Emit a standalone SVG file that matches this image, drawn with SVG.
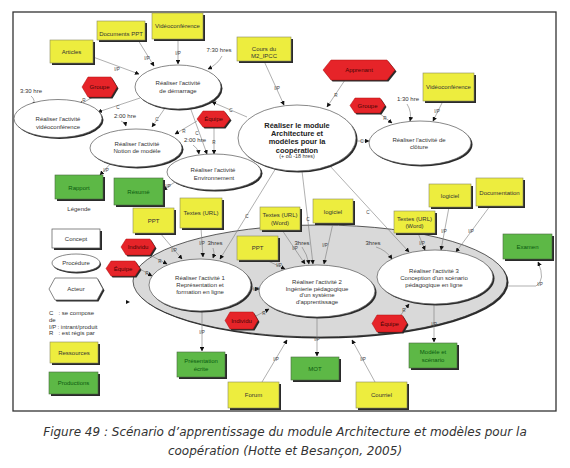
<svg xmlns="http://www.w3.org/2000/svg" width="570" height="468" viewBox="0 0 570 468">
<defs>
<style>
.t{font-family:"Liberation Sans",Arial,sans-serif;font-size:6px;fill:#333;text-anchor:middle}
.tl{font-family:"Liberation Sans",Arial,sans-serif;font-size:6px;fill:#333}
.tb{font-family:"Liberation Sans",Arial,sans-serif;font-size:7.4px;font-weight:bold;fill:#222;text-anchor:middle}
.tg{fill:#0a5a10}
.tr{fill:#4a0505}
.lb{font-family:"Liberation Sans",Arial,sans-serif;font-size:4.6px;fill:#444;text-anchor:middle}
.y{fill:#eded3e;stroke:#8a8a60;stroke-width:0.6}
.g{fill:#5db846;stroke:#4a6a40;stroke-width:0.6}
.r{fill:#e62429;stroke:#b01010;stroke-width:0.5}
.w{fill:#fff;stroke:#555;stroke-width:0.7}
.sh{fill:#2a2a2a}
.c{fill:none;stroke:#7a7a7a;stroke-width:0.6;marker-end:url(#ah)}
.cap{font-family:"DejaVu Sans",Verdana,sans-serif;font-size:12px;font-style:italic;fill:#333;text-anchor:middle}
</style>
<marker id="ah" viewBox="0 0 10 10" refX="9" refY="5" markerWidth="4.5" markerHeight="4.5" markerUnits="userSpaceOnUse" orient="auto"><path d="M0,0 L10,5 L0,10 z" fill="#111"/></marker>
</defs>
<rect x="0" y="0" width="570" height="468" fill="#fff"/>
<rect x="13" y="12" width="543" height="399" fill="#fff" stroke="#333" stroke-width="1.3"/>

<!-- big gray container -->
<g id="container">
<ellipse cx="321.5" cy="282.5" rx="187" ry="56" class="sh"/>
<ellipse cx="320" cy="281" rx="187" ry="56" fill="#d9d9d9" stroke="#333" stroke-width="0.8"/>
</g>

<!-- connectors -->
<g id="connectors">
<path class="c" d="M93,57 L139,74"/>
<path class="c" d="M138,40 L154,66"/>
<path class="c" d="M178,39 L178,64"/>
<path class="c" d="M222,56 Q218,64 208,69"/>
<path class="c" d="M93,97 L79,105"/>
<path class="c" d="M140,98 L98,112"/>
<path class="c" d="M31,96 Q36,100 33,106"/>
<path class="c" d="M165,108 L152,127"/>
<path class="c" d="M121,121 Q125,122 126,126"/>
<path class="c" d="M197,121 L175,134"/>
<path class="c" d="M190,107 L207,154"/>
<path class="c" d="M193,145 Q198,148 199,154"/>
<path class="c" d="M214,127 L214,154"/>
<path class="c" d="M247,117 L212,102"/>
<path class="c" d="M264,61 L284,105"/>
<path class="c" d="M345,80 L327,107"/>
<path class="c" d="M356,141 L369,141"/>
<path class="c" d="M379,113 L392,123"/>
<path class="c" d="M407,104 Q412,112 410,121"/>
<path class="c" d="M443,101 L433,121"/>
<path class="c" d="M112,162 L100,175"/>
<path class="c" d="M175,182 L163,190"/>
<path class="c" d="M276,168 L220,259"/>
<path class="c" d="M302,171 L313,264"/>
<path class="c" d="M330,166 L409,252"/>
<path class="c" d="M160,233 L182,259"/>
<path class="c" d="M201,228 L203,257"/>
<path class="c" d="M213,248 Q215,252 213,258"/>
<path class="c" d="M150,255 L167,264"/>
<path class="c" d="M140,269 L152,276"/>
<path class="c" d="M282,230 L305,264"/>
<path class="c" d="M302,247 Q307,254 309,264"/>
<path class="c" d="M333,223 L324,264"/>
<path class="c" d="M266,260 L285,269"/>
<path class="c" d="M251,289 L259,289"/>
<path class="c" d="M256,316 L269,309"/>
<path class="c" d="M202,311 L202,351"/>
<path class="c" d="M317,317 L317,356"/>
<path class="c" d="M262,382 L287,340"/>
<path class="c" d="M375,382 L352,340"/>
<path class="c" d="M418,233 L425,250"/>
<path class="c" d="M449,207 L441,250"/>
<path class="c" d="M490,206 L456,252"/>
<path class="c" d="M376,247 Q386,250 392,259"/>
<path class="c" d="M400,316 L409,304"/>
<path class="c" d="M434,304 L434,342"/>
<path class="c" d="M508,286 L536,286 Q546,280 538,262"/>
<path d="M126,300 L130,302 L126,304 z" fill="#111"/>
<g>
<text class="lb" x="117" y="70.5">I/P</text>
<text class="lb" x="147" y="59.5">I/P</text>
<text class="lb" x="178" y="54.5">I/P</text>
<text class="lb" x="84" y="101.5">R</text>
<text class="lb" x="118" y="108.5">C</text>
<text class="lb" x="157" y="120.5">C</text>
<text class="lb" x="184" y="132.5">R</text>
<text class="lb" x="197" y="134.5">C</text>
<text class="lb" x="214" y="143.5">R</text>
<text class="lb" x="231" y="111.5">C</text>
<text class="lb" x="277" y="89.5">I/P</text>
<text class="lb" x="336" y="96.5">R</text>
<text class="lb" x="362" y="142.5">C</text>
<text class="lb" x="385" y="119.5">R</text>
<text class="lb" x="437" y="112.5">I/P</text>
<text class="lb" x="106" y="171.5">I/P</text>
<text class="lb" x="168" y="187.5">I/P</text>
<text class="lb" x="247" y="217.5">C</text>
<text class="lb" x="308" y="220.5">C</text>
<text class="lb" x="368" y="213.5">C</text>
<text class="lb" x="174" y="251.5">I/P</text>
<text class="lb" x="202" y="244.5">I/P</text>
<text class="lb" x="160" y="262.5">R</text>
<text class="lb" x="147" y="274.5">R</text>
<text class="lb" x="295" y="249.5">I/P</text>
<text class="lb" x="325" y="246.5">I/P</text>
<text class="lb" x="279" y="266.5">I/P</text>
<text class="lb" x="256" y="290.5">I/P</text>
<text class="lb" x="264" y="314.5">R</text>
<text class="lb" x="202" y="333.5">I/P</text>
<text class="lb" x="317" y="340.5">I/P</text>
<text class="lb" x="276" y="360.5">I/P</text>
<text class="lb" x="363" y="360.5">I/P</text>
<text class="lb" x="422" y="244.5">I/P</text>
<text class="lb" x="444" y="232.5">I/P</text>
<text class="lb" x="471" y="232.5">I/P</text>
<text class="lb" x="404" y="311.5">R</text>
<text class="lb" x="434" y="325.5">I/P</text>
<text class="lb" x="540" y="285.5">I/P</text>
</g>
</g>

<!-- free time labels -->
<g id="durations">
<text class="t" x="219" y="52">7:30 hres</text>
<text class="t" x="31" y="93">3:30 hre</text>
<text class="t" x="125" y="118">2:00 hre</text>
<text class="t" x="195" y="142">2:00 hre</text>
<text class="t" x="408" y="100.5">1:30 hre</text>
<text class="t" x="215" y="245">3hres</text>
<text class="t" x="302" y="244.5">3hres</text>
<text class="t" x="373" y="244.5">3hres</text>
</g>

<!-- ellipse procedures -->
<g id="demarrage"><ellipse cx="179.5" cy="88.5" rx="43" ry="22" class="sh"/><ellipse cx="178" cy="87" rx="43" ry="22" class="w"/><text class="t" x="178" y="85">Réaliser l'activité</text><text class="t" x="178" y="92.5">de démarrage</text></g>
<g id="videoconf"><ellipse cx="59.5" cy="120" rx="44" ry="19" class="sh"/><ellipse cx="58" cy="118.5" rx="44" ry="19" class="w"/><text class="t" x="58" y="121">Réaliser l'activité</text><text class="t" x="58" y="129">vidéoconférence</text></g>
<g id="notion"><ellipse cx="137.5" cy="149.5" rx="46" ry="19" class="sh"/><ellipse cx="136" cy="148" rx="46" ry="19" class="w"/><text class="t" x="137" y="146">Réaliser l'activité</text><text class="t" x="137" y="153">Notion de modèle</text></g>
<g id="environnement"><ellipse cx="215.5" cy="173.5" rx="47" ry="18" class="sh"/><ellipse cx="214" cy="172" rx="47" ry="18" class="w"/><text class="t" x="213" y="172">Réaliser l'activité</text><text class="t" x="214" y="180">Environnement</text></g>
<g id="cloture"><ellipse cx="421.5" cy="144.5" rx="51" ry="22" class="sh"/><ellipse cx="420" cy="143" rx="51" ry="22" class="w"/><text class="t" x="419" y="141.5">Réaliser l'activité de</text><text class="t" x="419" y="149">clôture</text></g>
<g id="module"><ellipse cx="298.5" cy="139.5" rx="59" ry="33" class="sh"/><ellipse cx="297" cy="138" rx="59" ry="33" class="w"/><text class="tb" x="297" y="127.5">Réaliser le module</text><text class="tb" x="297" y="135.5">Architecture et</text><text class="tb" x="297" y="144">modèles pour la</text><text class="tb" x="297" y="152.5">coopération</text><text class="t" x="297" y="158" style="font-size:5.4px">(+ ou -18 hres)</text></g>
<g id="activite1"><ellipse cx="201.5" cy="286.5" rx="51" ry="26" class="sh"/><ellipse cx="200" cy="285" rx="51" ry="26" class="w"/><text class="t" x="200" y="280">Réaliser l'activité 1</text><text class="t" x="200" y="287">Représentation et</text><text class="t" x="200" y="294">formation en ligne</text></g>
<g id="activite2"><ellipse cx="318.5" cy="292.5" rx="58" ry="26" class="sh"/><ellipse cx="317" cy="291" rx="58" ry="26" class="w"/><text class="t" x="317" y="284">Réaliser l'activité 2</text><text class="t" x="317" y="290.5">Ingénierie pédagogique</text><text class="t" x="317" y="297">d'un système</text><text class="t" x="317" y="304">d'apprentissage</text></g>
<g id="activite3"><ellipse cx="436.5" cy="278.5" rx="58" ry="27" class="sh"/><ellipse cx="435" cy="277" rx="58" ry="27" class="w"/><text class="t" x="434" y="273">Réaliser l'activité 3</text><text class="t" x="434" y="280">Conception d'un scénario</text><text class="t" x="434" y="287">pédagogique en ligne</text></g>

<!-- yellow resources -->
<g id="articles"><rect x="52" y="42" width="43" height="23" class="sh"/><rect x="50" y="40" width="43" height="23" class="y"/><text class="t" x="71.5" y="54">Articles</text></g>
<g id="docppt"><rect x="99" y="23" width="48" height="19" class="sh"/><rect x="97" y="21" width="48" height="19" class="y"/><text class="t" x="121" y="36">Documents PPT</text></g>
<g id="video1"><rect x="154" y="15" width="51" height="26" class="sh"/><rect x="152" y="13" width="51" height="26" class="y"/><text class="t" x="177.5" y="28">Vidéoconférence</text></g>
<g id="cours"><rect x="239" y="39" width="54" height="24" class="sh"/><rect x="237" y="37" width="54" height="24" class="y"/><text class="t" x="264" y="50.5">Cours du</text><text class="t" x="264" y="58">M2_IPCC</text></g>
<g id="video2"><rect x="425" y="75" width="51" height="28" class="sh"/><rect x="423" y="73" width="51" height="28" class="y"/><text class="t" x="448.5" y="88.5">Vidéoconférence</text></g>
<g id="ppt1"><rect x="135" y="210" width="41" height="25" class="sh"/><rect x="133" y="208" width="41" height="25" class="y"/><text class="t" x="153.5" y="222.5">PPT</text></g>
<g id="textes1"><rect x="182" y="200" width="42" height="30" class="sh"/><rect x="180" y="198" width="42" height="30" class="y"/><text class="t" x="201" y="215">Textes (URL)</text></g>
<g id="textesw1"><rect x="262" y="209" width="40" height="23" class="sh"/><rect x="260" y="207" width="40" height="23" class="y"/><text class="t" x="280" y="217">Textes (URL)</text><text class="t" x="280" y="224.5">(Word)</text></g>
<g id="logiciel1"><rect x="315" y="201" width="40" height="24" class="sh"/><rect x="313" y="199" width="40" height="24" class="y"/><text class="t" x="333" y="213.5">logiciel</text></g>
<g id="ppt2"><rect x="239" y="238" width="41" height="24" class="sh"/><rect x="237" y="236" width="41" height="24" class="y"/><text class="t" x="257.5" y="250">PPT</text></g>
<g id="logiciel2"><rect x="431" y="186" width="42" height="23" class="sh"/><rect x="429" y="184" width="42" height="23" class="y"/><text class="t" x="450" y="198">logiciel</text></g>
<g id="documentation"><rect x="478" y="180" width="47" height="28" class="sh"/><rect x="476" y="178" width="47" height="28" class="y"/><text class="t" x="499.5" y="195">Documentation</text></g>
<g id="textesw2"><rect x="396" y="213" width="41" height="22" class="sh"/><rect x="394" y="211" width="41" height="22" class="y"/><text class="t" x="414.5" y="221">Textes (URL)</text><text class="t" x="414.5" y="228">(Word)</text></g>
<g id="forum"><rect x="230" y="384" width="51" height="26" class="sh"/><rect x="228" y="382" width="51" height="26" class="y"/><text class="t" x="253.5" y="397">Forum</text></g>
<g id="courriel"><rect x="358" y="384" width="51" height="26" class="sh"/><rect x="356" y="382" width="51" height="26" class="y"/><text class="t" x="381.5" y="397">Courriel</text></g>

<!-- green productions -->
<g id="rapport"><rect x="57" y="177" width="48" height="24" class="sh"/><rect x="55" y="175" width="48" height="24" class="g"/><text class="t tg" x="79" y="189.5">Rapport</text></g>
<g id="resume"><rect x="116" y="180" width="49" height="27" class="sh"/><rect x="114" y="178" width="49" height="27" class="g"/><text class="t tg" x="138.5" y="194">Résumé</text></g>
<g id="examen"><rect x="505" y="236" width="49" height="25" class="sh"/><rect x="503" y="234" width="49" height="25" class="g"/><text class="t tg" x="527.5" y="248.5">Examen</text></g>
<g id="presentation"><rect x="179" y="354" width="48" height="25" class="sh"/><rect x="177" y="352" width="48" height="25" class="g"/><text class="t tg" x="201" y="363">Présentation</text><text class="t tg" x="201" y="370.5">écrite</text></g>
<g id="mot"><rect x="293" y="359" width="48" height="23" class="sh"/><rect x="291" y="357" width="48" height="23" class="g"/><text class="t tg" x="315" y="370.5">MOT</text></g>
<g id="modele"><rect x="411" y="345" width="48" height="25" class="sh"/><rect x="409" y="343" width="48" height="25" class="g"/><text class="t tg" x="433" y="354">Modèle et</text><text class="t tg" x="433" y="361.5">scénario</text></g>

<!-- red actors -->
<g id="groupe1"><polygon class="sh" transform="translate(1.5,1.5)" points="82,87 88,77 111,77 117,87 111,97 88,97"/><polygon class="r" points="82,87 88,77 111,77 117,87 111,97 88,97"/><text class="t tr" x="99.5" y="89">Groupe</text></g>
<g id="equipe1"><polygon class="sh" transform="translate(1.5,1.5)" points="197,119 203,111 224,111 230,119 224,127 203,127"/><polygon class="r" points="197,119 203,111 224,111 230,119 224,127 203,127"/><text class="t tr" x="213.5" y="121">Équipe</text></g>
<g id="apprenant"><polygon class="sh" transform="translate(1.5,1.5)" points="323,70 331,60 387,60 395,70 387,80 331,80"/><polygon class="r" points="323,70 331,60 387,60 395,70 387,80 331,80"/><text class="t tr" x="359" y="72">Apprenant</text></g>
<g id="groupe2"><polygon class="sh" transform="translate(1.5,1.5)" points="350,105.5 355,98 380,98 385,105.5 380,113 355,113"/><polygon class="r" points="350,105.5 355,98 380,98 385,105.5 380,113 355,113"/><text class="t tr" x="367.5" y="107.5">Groupe</text></g>
<g id="individu1"><polygon class="sh" transform="translate(1.5,1.5)" points="121,247 126,239 150,239 155,247 150,255 126,255"/><polygon class="r" points="121,247 126,239 150,239 155,247 150,255 126,255"/><text class="t tr" x="138" y="249">Individu</text></g>
<g id="equipe2"><polygon class="sh" transform="translate(1.5,1.5)" points="106,268.5 111,261 135,261 140,268.5 135,276 111,276"/><polygon class="r" points="106,268.5 111,261 135,261 140,268.5 135,276 111,276"/><text class="t tr" x="123" y="270.5">Équipe</text></g>
<g id="individu2"><polygon class="sh" transform="translate(1.5,1.5)" points="225,320.5 230,312 253,312 258,320.5 253,329 230,329"/><polygon class="r" points="225,320.5 230,312 253,312 258,320.5 253,329 230,329"/><text class="t tr" x="241.5" y="322.5">Individu</text></g>
<g id="equipe3"><polygon class="sh" transform="translate(1.5,1.5)" points="372,323.5 377,315 402,315 407,323.5 402,332 377,332"/><polygon class="r" points="372,323.5 377,315 402,315 407,323.5 402,332 377,332"/><text class="t tr" x="389.5" y="325.5">Équipe</text></g>

<!-- legend -->
<g id="legende">
<text class="t" x="79" y="211">Légende</text>
<rect x="54" y="231" width="48" height="19" class="sh"/><rect x="52" y="229" width="48" height="19" class="w"/><text class="t" x="76" y="240.5">Concept</text>
<ellipse cx="77" cy="264.5" rx="24" ry="9" class="sh"/><ellipse cx="76" cy="263" rx="24" ry="9" class="w"/><text class="t" x="76" y="265">Procédure</text>
<polygon class="sh" transform="translate(1.5,1.5)" points="49,289 55,278 97,278 103,289 97,300 55,300"/><polygon class="w" points="49,289 55,278 97,278 103,289 97,300 55,300"/><text class="t" x="76" y="291">Acteur</text>
<text class="tl" y="315"><tspan x="49">C</tspan><tspan x="58.5">: se compose</tspan></text>
<text class="tl" x="49" y="321.5">de</text>
<text class="tl" y="328.5"><tspan x="49">I/P</tspan><tspan x="57.5">: intrant/produit</tspan></text>
<text class="tl" y="335"><tspan x="49">R</tspan><tspan x="58.5">: est régis par</tspan></text>
<rect x="52" y="344" width="48" height="21" class="sh"/><rect x="50" y="342" width="48" height="21" class="y"/><text class="t" x="74" y="354.5">Ressources</text>
<rect x="51" y="374" width="49" height="22" class="sh"/><rect x="49" y="372" width="49" height="22" class="g"/><text class="t tg" x="73.5" y="385">Productions</text>
</g>

<g id="caption">
<text class="cap" x="285" y="436">Figure 49 : Scénario d’apprentissage du module Architecture et modèles pour la</text>
<text class="cap" x="285" y="455">coopération (Hotte et Besançon, 2005)</text>
</g>
</svg>
